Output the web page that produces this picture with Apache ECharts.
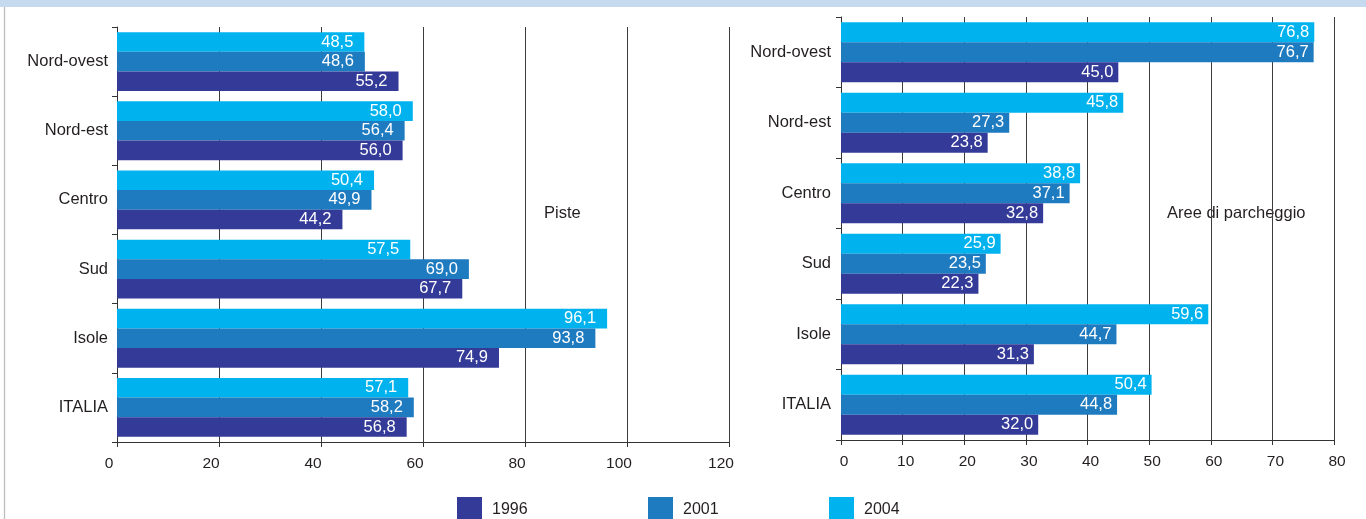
<!DOCTYPE html>
<html>
<head>
<meta charset="utf-8">
<style>
  html, body { margin: 0; padding: 0; background: #fff; }
  #chart { width: 1366px; height: 519px; }
</style>
<script src="https://cdn.jsdelivr.net/npm/echarts@6/dist/echarts.min.js"></script>
</head>
<body>
<div id="chart"></div>
<script>
// ---- Data ----
const categories = ['Nord-ovest', 'Nord-est', 'Centro', 'Sud', 'Isole', 'ITALIA'];
const years = ['1996', '2001', '2004'];
const colors = { '1996': '#343a97', '2001': '#1f7bc0', '2004': '#00b3ef' };

// Piste (left panel)
const piste1996 = [55.2, 56.0, 44.2, 67.7, 74.9, 56.8];
const piste2001 = [48.6, 56.4, 49.9, 69.0, 93.8, 58.2];
const piste2004 = [48.5, 58.0, 50.4, 57.5, 96.1, 57.1];

// Aree di parcheggio (right panel)
const aree1996 = [45.0, 23.8, 32.8, 22.3, 31.3, 32.0];
const aree2001 = [76.7, 27.3, 37.1, 23.5, 44.7, 44.8];
const aree2004 = [76.8, 45.8, 38.8, 25.9, 59.6, 50.4];

const leftTicks = { min: 0, max: 120, interval: 20 };
const rightTicks = { min: 0, max: 80, interval: 10 };
const panelTitles = ['Piste', 'Aree di parcheggio'];

// ---- Chart ----
const FONT = "'Liberation Sans', Arial, sans-serif";
const TXT = '#231f20';
const chart = echarts.init(document.getElementById('chart'), null, { renderer: 'canvas' });

const fmt = p => p.value.toFixed(1).replace('.', ',');

function barSeries(name, data, idx, dist) {
  return {
    name: name,
    type: 'bar',
    xAxisIndex: idx,
    yAxisIndex: idx,
    data: data,
    barGap: '0%',
    barCategoryGap: '15%',
    itemStyle: { color: colors[name] },
    label: {
      show: true,
      position: 'insideRight',
      distance: dist,
      color: '#ffffff',
      fontFamily: FONT,
      fontSize: 16.5,
      formatter: fmt
    },
    animation: false
  };
}

function valueAxis(idx, ticks, pad) {
  return {
    type: 'value',
    gridIndex: idx,
    min: ticks.min,
    max: ticks.max,
    interval: ticks.interval,
    axisLine: { show: true, lineStyle: { color: '#333', width: 1 } },
    axisTick: { show: true, length: 5, lineStyle: { color: '#333' } },
    axisLabel: { color: TXT, fontFamily: FONT, fontSize: 15.5, margin: 14, padding: pad },
    splitLine: { show: true, lineStyle: { color: '#3c3c3c', width: 1 } }
  };
}

function catAxis(idx, margin) {
  return {
    type: 'category',
    gridIndex: idx,
    data: categories,
    inverse: true,
    axisLine: { show: true, lineStyle: { color: '#333', width: 1 } },
    axisTick: { show: true, length: 5, inside: false, lineStyle: { color: '#333' } },
    axisLabel: { color: TXT, fontFamily: FONT, fontSize: 16.5, margin: margin },
    splitLine: { show: false }
  };
}

function legendItem(name, left) {
  return {
    data: [name],
    left: left,
    top: 497,
    padding: 0,
    orient: 'horizontal',
    icon: 'rect',
    itemWidth: 25,
    itemHeight: 25,
    selectedMode: false,
    textStyle: { color: TXT, fontFamily: FONT, fontSize: 16, padding: [0, 0, 0, 5] }
  };
}

const option = {
  backgroundColor: '#ffffff',
  animation: false,
  grid: [
    { left: 117, top: 27, width: 612, bottom: 77, containLabel: false },
    { left: 841, top: 17, width: 493, bottom: 79, containLabel: false }
  ],
  xAxis: [valueAxis(0, leftTicks, [0, 16, 0, 0]), valueAxis(1, rightTicks, [0, 0, 0, 6])],
  yAxis: [catAxis(0, 9), catAxis(1, 10)],
  legend: [legendItem('1996', 457), legendItem('2001', 648), legendItem('2004', 829)],
  graphic: [
    { type: 'rect', left: 0, top: 0, shape: { x: 0, y: 0, width: 1366, height: 7 }, style: { fill: '#c5d9ef' }, silent: true },
    { type: 'line', shape: { x1: 4.5, y1: 7, x2: 4.5, y2: 519 }, style: { stroke: '#bdbdbd', lineWidth: 1.3 }, silent: true },
    { type: 'text', x: 544, y: 213, style: { text: panelTitles[0], fill: TXT, font: '16.5px ' + FONT, textVerticalAlign: 'middle' }, silent: true },
    { type: 'text', x: 1167, y: 213, style: { text: panelTitles[1], fill: TXT, font: '16.5px ' + FONT, textVerticalAlign: 'middle' }, silent: true }
  ],
  series: [
    barSeries('2004', piste2004, 0, 11),
    barSeries('2001', piste2001, 0, 11),
    barSeries('1996', piste1996, 0, 11),
    barSeries('2004', aree2004, 1, 5),
    barSeries('2001', aree2001, 1, 5),
    barSeries('1996', aree1996, 1, 5)
  ]
};

chart.setOption(option);
</script>
</body>
</html>
